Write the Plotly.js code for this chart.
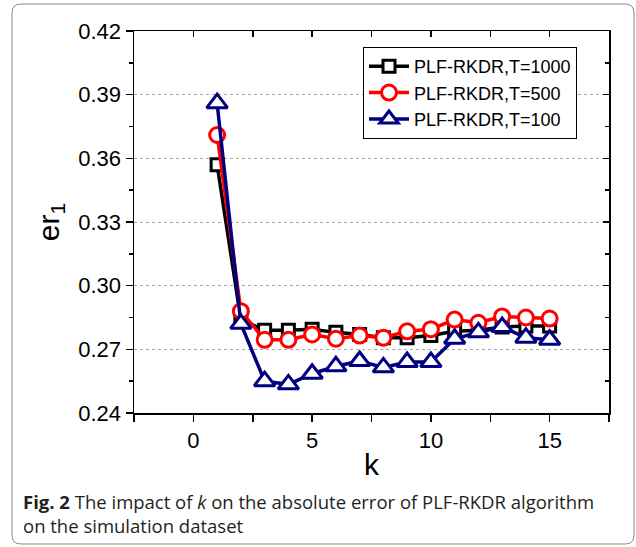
<!DOCTYPE html>
<html>
<head>
<meta charset="utf-8">
<script src="https://cdn.plot.ly/plotly-3.0.1.min.js"></script>
<style>
html,body{margin:0;padding:0;background:#fff;}
#chart{width:636px;height:547px;}
</style>
</head>
<body>
<div id="chart"></div>
<script>
const k = [1,2,3,4,5,6,7,8,9,10,11,12,13,14,15];
const t1000 = [0.357,0.284,0.279,0.279,0.2795,0.278,0.277,0.2755,0.2755,0.2765,0.2785,0.279,0.2805,0.281,0.281];
const t500  = [0.371,0.288,0.2745,0.2745,0.277,0.275,0.2765,0.2755,0.2785,0.2795,0.284,0.2825,0.2855,0.285,0.2845];
const t100  = [0.386,0.282,0.255,0.2535,0.2585,0.262,0.2645,0.2615,0.264,0.264,0.275,0.278,0.2805,0.2755,0.2745];
const seriesNames = ['PLF-RKDR,T=1000','PLF-RKDR,T=500','PLF-RKDR,T=100'];
const xTickVals = [0,5,10,15];
const yTickVals = [0.24,0.27,0.30,0.33,0.36,0.39,0.42];
const yTickText = ['0.24','0.27','0.30','0.33','0.36','0.39','0.42'];

const L=134, R=27, T=31, B=134, W=636, H=547;
const pw = W-L-R, ph = H-T-B;
const px = x => (x-L)/pw;
const py = y => (H-B-y)/ph;

const traces = [
  {x:k, y:t1000, name:seriesNames[0], type:'scatter', mode:'lines+markers',
   line:{color:'#000000', width:3.5},
   marker:{symbol:'square', size:12, color:'#ffffff', line:{width:3, color:'#000000'}}},
  {x:k, y:t500, name:seriesNames[1], type:'scatter', mode:'lines+markers',
   line:{color:'#ff0000', width:3.5},
   marker:{symbol:'circle', size:15, color:'#ffffff', line:{width:3, color:'#ff0000'}}},
  {x:k, y:t100, name:seriesNames[2], type:'scatter', mode:'lines+markers',
   line:{color:'#000080', width:3.5},
   marker:{symbol:'triangle-up', size:18, color:'#ffffff', line:{width:3, color:'#000080'}}},
  {x:[null], y:[null], xaxis:'x2', yaxis:'y2', showlegend:false, hoverinfo:'skip', mode:'markers'}
];

const FAM = 'Liberation Sans';
const tickFont = {family:FAM, size:22, color:'#000'};
const layout = {
  width:W, height:H,
  margin:{l:L, r:R, t:T, b:B},
  paper_bgcolor:'#fff', plot_bgcolor:'#fff',
  showlegend:true,
  font:{family:FAM, color:'#000'},
  xaxis:{range:[-2.5,17.5], tickvals:xTickVals, ticktext:xTickVals.map(String),
    ticks:'outside', ticklen:7, tickwidth:1.5, tickcolor:'#000',
    minor:{dtick:2.5, tick0:0, ticks:'outside', ticklen:7, tickwidth:1.5, tickcolor:'#000', showgrid:false},
    showline:true, linecolor:'#000', linewidth:1.5, showgrid:false, zeroline:false,
    tickfont:tickFont, title:{text:'k', font:{family:FAM, size:30}, standoff:2}},
  yaxis:{range:[0.24,0.42], tickvals:yTickVals, ticktext:yTickText,
    ticks:'outside', ticklen:7, tickwidth:1.5, tickcolor:'#000',
    minor:{dtick:0.015, tick0:0.24, ticks:'outside', ticklen:4, tickwidth:1.5, tickcolor:'#000', showgrid:false},
    showline:true, linecolor:'#000', linewidth:1.5, zeroline:false,
    showgrid:true, gridcolor:'#a8a8a8', gridwidth:1, griddash:'3px,3px',
    tickfont:tickFont, title:{text:'er<sub>1</sub>', font:{family:FAM, size:30}, standoff:10}},
  xaxis2:{range:[-2.5,17.5], overlaying:'x', side:'top', anchor:'y', tickvals:xTickVals,
    showticklabels:false, ticks:'inside', ticklen:6, tickwidth:1.5, tickcolor:'#000',
    minor:{dtick:2.5, tick0:0, ticks:'inside', ticklen:6, tickwidth:1.5, tickcolor:'#000'},
    showline:true, linecolor:'#000', linewidth:1.5, showgrid:false, zeroline:false},
  yaxis2:{range:[0.24,0.42], overlaying:'y', side:'right', anchor:'x', tickvals:yTickVals,
    showticklabels:false, ticks:'inside', ticklen:6, tickwidth:1.5, tickcolor:'#000',
    minor:{dtick:0.015, tick0:0.24, ticks:'inside', ticklen:4, tickwidth:1.5, tickcolor:'#000'},
    showline:true, linecolor:'#000', linewidth:1.5, showgrid:false, zeroline:false},
  legend:{x:px(363), y:py(47), xanchor:'left', yanchor:'top',
    bgcolor:'#fff', bordercolor:'#000', borderwidth:1,
    font:{family:FAM, size:18, color:'#000'},
    tracegroupgap:0, itemwidth:40},
  shapes:[
    {type:'path', xref:'paper', yref:'paper', layer:'below',
     path: (function(){
       const x0=12,x1=634,y0=4,y1=544,r=9;
       const P=(a,b)=>px(a)+','+py(b);
       return 'M'+P(x0+r,y0)+' L'+P(x1-r,y0)+' Q'+P(x1,y0)+' '+P(x1,y0+r)+
         ' L'+P(x1,y1-r)+' Q'+P(x1,y1)+' '+P(x1-r,y1)+' L'+P(x0+r,y1)+' Q'+P(x0,y1)+' '+P(x0,y1-r)+
         ' L'+P(x0,y0+r)+' Q'+P(x0,y0)+' '+P(x0+r,y0)+' Z';
     })(),
     line:{color:'#8a8a8a', width:1}}
  ],
  annotations:[
    {xref:'paper', yref:'paper', x:px(21), y:py(487), xanchor:'left', yanchor:'top', align:'left',
     showarrow:false,
     text:'<b>Fig. 2</b> The impact of <i>k</i> on the absolute error of PLF-RKDR algorithm<br>on the simulation dataset',
     font:{family:'Open Sans', size:18.5, color:'#231f20'}}
  ]
};
Plotly.newPlot('chart', traces, layout, {displayModeBar:false, staticPlot:true});
</script>
</body>
</html>
